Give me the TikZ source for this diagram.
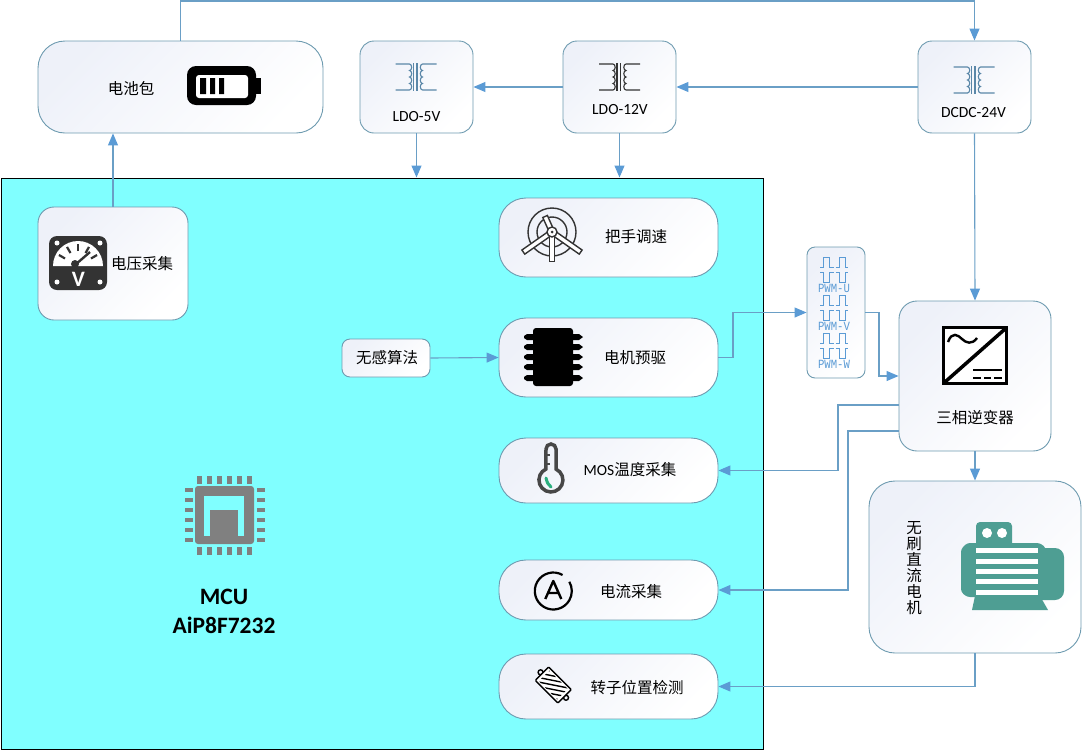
\documentclass[tikz,border=0pt]{standalone}
\usepackage{fontspec}
\setmainfont{Carlito}
\newfontfamily\cjk{Noto Sans CJK SC}
\newfontfamily\pwmfont[FakeStretch=0.85]{Liberation Mono}
\usetikzlibrary{arrows.meta, positioning, calc}
\definecolor{mcucyan}{HTML}{80FFFF}
\definecolor{boxedge}{HTML}{6E9BB0}
\definecolor{boxtint}{HTML}{EEF1F9}
\definecolor{wireblue}{HTML}{6A9FC6}
\definecolor{tipblue}{HTML}{5B9BD5}
\definecolor{icondark}{HTML}{333333}
\definecolor{chipgray}{HTML}{808080}
\definecolor{motorteal}{HTML}{4E9E93}
\definecolor{thermgreen}{HTML}{2BAE7E}
\tikzset{
  panel/.style 2 args={
    rectangle, draw=boxedge, line width=0.9pt,
    left color=boxtint, middle color=white, right color=white, shading angle=45,
    minimum width=#1pt, minimum height=#2pt, inner sep=0pt
  },
  widebox/.style 2 args={panel={#1}{#2}, rounded corners=27pt},
  blockbox/.style 2 args={panel={#1}{#2}, rounded corners=14pt},
  smallbox/.style 2 args={panel={#1}{#2}, rounded corners=8pt},
  cjklabel/.style={inner sep=0pt, font=\fontsize{15.5pt}{16pt}\cjk},
  latinlabel/.style={inner sep=0pt, font=\fontsize{15.5pt}{16pt}\selectfont},
  arr/.style={-{Triangle[length=12pt,width=10pt,color=tipblue]}, draw=wireblue, line width=1.1pt},
  % icons, drawn round their own centre
  xformer/.pic={
    \draw[line width=1.1pt] (-21,-13) -- (-7,-13)
      arc[start angle=90,end angle=-90,x radius=2.2pt,y radius=3.25pt]
      arc[start angle=90,end angle=-90,x radius=2.2pt,y radius=3.25pt]
      arc[start angle=90,end angle=-90,x radius=2.2pt,y radius=3.25pt]
      arc[start angle=90,end angle=-90,x radius=2.2pt,y radius=3.25pt]
      -- (-21,13);
    \draw[line width=1.1pt] (20,-13) -- (6,-13)
      arc[start angle=90,end angle=270,x radius=2.2pt,y radius=3.25pt]
      arc[start angle=90,end angle=270,x radius=2.2pt,y radius=3.25pt]
      arc[start angle=90,end angle=270,x radius=2.2pt,y radius=3.25pt]
      arc[start angle=90,end angle=270,x radius=2.2pt,y radius=3.25pt]
      -- (20,13);
    \draw[line width=1.1pt] (-3,-14) -- (-3,14) (0.5,-14) -- (0.5,14);
  },
  pulses/.pic={
    \draw[tipblue, line width=1pt]
      (-14,5) -- (-10.5,5) -- (-10.5,-5) -- (-4.5,-5) -- (-4.5,5) -- (-0.5,5)
      (1.5,5) -- (5,5) -- (5,-5) -- (11,-5) -- (11,5) -- (14,5);
    \draw[tipblue, line width=1pt]
      (-14,10) -- (-10.5,10) -- (-10.5,20) -- (-4.5,20) -- (-4.5,10) -- (-0.5,10)
      (1.5,10) -- (5,10) -- (5,20) -- (11,20) -- (11,10) -- (14,10);
  }
}

\begin{document}
\begin{tikzpicture}[x=1pt,y=-1pt]
\useasboundingbox (0,0) rectangle (1086,750);

% MCU area
\node[rectangle, draw=black, line width=1pt, fill=mcucyan, minimum width=762pt,
      minimum height=571pt, inner sep=0pt] (mcu) at (382,463.5) {};

% top row
\node[widebox={285}{92}] (batt) at (180.5,87) {};
\node[blockbox={113}{92}] (ldofive) at (416.5,87) {};
\node[blockbox={113}{92}] (ldotwelve) at (619.5,87) {};
\node[blockbox={113}{92}] (dcdc) at (974.5,87) {};

% inside the MCU
\node[blockbox={150}{113}, rounded corners=16pt] (volt) at (113,263.5) {};
\node[widebox={219}{79}] (grip) at (608.5,237.5) {};
\node[widebox={219}{79}] (predrv) at (608.5,357.5) {};
\node[widebox={219}{65}] (mostemp) at (608.5,470.5) {};
\node[widebox={219}{60}] (curr) at (608.5,590) {};
\node[widebox={219}{65}] (rotor) at (608.5,686.5) {};
\node[smallbox={88}{38}] (sensorless) at (386,358) {};

% right side
\node[smallbox={58}{131}] (pwm) at (836,312.5) {};
\node[blockbox={152}{150}, rounded corners=18pt] (inv) at (975,376) {};
\node[blockbox={212}{172}, rounded corners=26pt] (bldc) at (975,567) {};

% connectors
\coordinate (toprail) at (974.5,1);
\coordinate (prebend) at (733,357.5);
\coordinate (pwmbend) at (879,312.5);
\coordinate (tempbend) at (838,405);
\coordinate (currbend) at (848,431);
\draw[arr] (batt.north) |- (toprail) -- (dcdc.north);
\draw[arr] (volt.north) -- (volt.north |- batt.south);
\draw[arr] (ldotwelve.west) -- (ldofive.east);
\draw[arr] (dcdc.west) -- (ldotwelve.east);
\draw[arr] (ldofive.south) -- (ldofive.south |- mcu.north);
\draw[arr] (ldotwelve.south) -- (ldotwelve.south |- mcu.north);
\draw[arr] (dcdc.south) -- (inv.north);
\draw[arr] (inv.south) -- (bldc.north);
\draw[arr] (sensorless.east) -- (predrv.west);
\draw[arr] (predrv.east) -- (prebend) |- (pwm.west);
\draw[arr] (pwm.east) -- (pwmbend) |- (inv.west);
\draw[arr] (inv.west |- tempbend) -- (tempbend) |- (mostemp.east);
\draw[arr] (inv.west |- currbend) -- (currbend) |- (curr.east);
\draw[arr] (bldc.south) |- (rotor.east);

% labels
\node[cjklabel] (battlbl) at (131,88) {电池包};
\node[latinlabel] (ldofivelbl) at (416.5,117) {LDO-5V};
\node[latinlabel] (ldotwelvelbl) at (620,110) {LDO-12V};
\node[latinlabel] (dcdclbl) at (973.5,113) {DCDC-24V};
\node[cjklabel] (voltlbl) at (142,264) {电压采集};
\node[cjklabel] (griplbl) at (636,237) {把手调速};
\node[cjklabel] (sensorlesslbl) at (387,358) {无感算法};
\node[cjklabel] (predrvlbl) at (635,358) {电机预驱};
\node[latinlabel] (mostemplbl) at (630,470) {MOS{\cjk 温度采集}};
\node[cjklabel] (currlbl) at (631,592) {电流采集};
\node[cjklabel] (rotorlbl) at (637,688) {转子位置检测};
\node[cjklabel] (invlbl) at (975,418) {三相逆变器};
\node[cjklabel, align=center, text width=16pt] (bldclbl) at (914,568) {无\\刷\\直\\流\\电\\机};
\node[inner sep=0pt, align=center, font=\fontsize{23.5pt}{29pt}\selectfont\bfseries] (mculbl) at (224,611.5) {MCU\\AiP8F7232};

% transformer icons
\pic[color=wireblue!85!black] at (416.5,77) {xformer};
\pic[color=icondark] at (620,77) {xformer};
\pic[color=wireblue!85!black] at (974.5,80) {xformer};

% battery icon
\fill[black, rounded corners=9pt] (187,66) rectangle (256,105);
\fill[black] (255,78) rectangle (261,94);
\fill[white, rounded corners=3pt] (196,75) rectangle (248,98);
\fill[black] (200,78) rectangle (206,94) (210,78) rectangle (215,94) (219,78) rectangle (224,94);

% voltmeter icon
\fill[icondark, rounded corners=8pt] (49,236) rectangle (107,290);
\fill[white] (53,266) arc[start angle=180,end angle=0,radius=25pt] -- cycle;
\foreach \cx/\cy in {57/243,100/243,57/282,100/282}
  \fill[white] (\cx,\cy) circle[radius=2.5pt];
\foreach \ang in {30,60,90,120,150}
  \draw[icondark, line width=2.2pt] ($(78,266)+({15*cos(\ang)},{-15*sin(\ang)})$) -- ($(78,266)+({22*cos(\ang)},{-22*sin(\ang)})$);
\draw[icondark, line width=2.4pt] (75,265) -- (90,252);
\fill[icondark] (75,264) circle[radius=4pt];
\node[inner sep=0pt, text=white, font=\fontsize{22pt}{22pt}\selectfont\bfseries] (voltv) at (78.5,279) {V};

% grip icon
\begin{scope}[shift={(552,232)}, draw=icondark, line width=1.4pt]
  \draw (0,0) circle[radius=24pt];
  \draw (0,0) circle[radius=15pt];
  \draw[fill=white, rotate=-55] (-2.5,4) rectangle (2.5,35);
  \draw[fill=white, rotate=55] (-2.5,4) rectangle (2.5,35);
  \draw[fill=white] (-2.5,4) rectangle (2.5,29.5);
  \draw[fill=white, rotate=204] (-2.5,4) rectangle (2.5,17);
  \draw[fill=white] (0,0) circle[radius=5pt];
  \fill[icondark] (0,0) circle[radius=1.5pt];
\end{scope}

% chip icon
\fill[black, rounded corners=3pt] (533,328) rectangle (573,386);
\foreach \py in {337,347,357,367,378} {
  \fill[black] (533,\py-3) -- (527,\py-3) -- (524,\py-1) -- (524,\py+1) -- (527,\py+3) -- (533,\py+3) -- cycle;
  \fill[black] (573,\py-3) -- (579,\py-3) -- (583,\py) -- (579,\py+3) -- (573,\py+3) -- cycle;
}

% thermometer icon
\begin{scope}[shift={(551,480)}]
  \draw[icondark!90!white, line width=3.5pt] (5,-10.9)
    arc[start angle=65,end angle=-245,radius=12pt]
    -- (-5,-31) arc[start angle=180,end angle=0,radius=5pt] -- cycle;
  \draw[icondark!90!white, line width=2.5pt] (-6,-25) -- (-1,-25) (-6,-16) -- (-1,-16);
  \draw[thermgreen, line width=3pt, line cap=round] (-5,-2) .. controls (-4,2) and (-3,5) .. (0,7);
\end{scope}

% ammeter icon
\draw[black, line width=2.2pt] (553.3,591) ++(60:18.5pt)
  arc[start angle=60,end angle=390,radius=18.5pt];
\draw[black, line width=2.4pt, line join=round] (545.3,599) -- (553.3,581) -- (561.3,599) (548.3,593) -- (558.3,593);

% rotor icon
\begin{scope}[shift={(553.3,685)}, rotate=-45, draw=black, line width=1.4pt]
  \draw (-18,0) circle[radius=2.5pt] (18,0) circle[radius=2.5pt];
  \draw[fill=white, rounded corners=1pt] (-16,-9.5) rectangle (16,9.5);
  \clip (-13,-7.5) rectangle (13,7.5);
  \foreach \hx in {-36,-28,-20,-12,-4,4,12}
    \draw (\hx,8) -- (\hx+24,-8);
\end{scope}

% mcu chip icon
\fill[chipgray, rounded corners=3pt] (195,486) rectangle (254,544);
\fill[mcucyan] (204,496) rectangle (244,536);
\fill[chipgray] (210,510) rectangle (238,537);
\foreach \pp in {-25,-15,-5,5,15,25} {
  \fill[chipgray] (184.5,515+\pp-2) rectangle (192.5,515+\pp+2);
  \fill[chipgray] (256.5,515+\pp-2) rectangle (264.5,515+\pp+2);
  \fill[chipgray] (224.5+\pp-2.5,476) rectangle (224.5+\pp+2.5,483.5);
  \fill[chipgray] (224.5+\pp-2.5,547) rectangle (224.5+\pp+2.5,555);
}

% pwm icon
\foreach \gy/\lbl in {0/U,38/V,76/W} {
  \pic at (834,262+\gy) {pulses};
  \node[inner sep=0pt, text=tipblue, font=\fontsize{12.5pt}{13pt}\pwmfont] (pwm\lbl) at (834,288.5+\gy) {PWM-\lbl};
}

% inverter icon
\draw[black, fill=white, line width=3.5pt] (943.5,327.5) rectangle (1006.5,383.5);
\draw[black, line width=3.5pt] (945,382) -- (1005,329);
\draw[black, line width=2.4pt] (948,342) .. controls (952,331) and (958,335) .. (962,339)
  .. controls (966,343) and (972,345) .. (977,338);
\draw[black, line width=2.6pt] (973,370) -- (1002,370);
\draw[black, line width=2.6pt] (973,378) -- (981,378) (984,378) -- (991,378) (994,378) -- (1002,378);

% motor icon
\fill[motorteal, rounded corners=4pt] (976,522) rectangle (1012,550);
\fill[white] (987,533) circle[radius=5pt] (1002,533) circle[radius=5pt];
\fill[motorteal, rounded corners=9pt] (1030,548) rectangle (1064,600);
\fill[motorteal, rounded corners=3pt] (961,549) -- (967,543) -- (1040,543) -- (1046,548) -- (1046,597) -- (967,597) -- (961,592) -- cycle;
\fill[motorteal] (975,596) -- (1040,596) -- (1048,610) -- (972,610) -- cycle;
\foreach \sy in {548,558.5,569,579,590}
  \fill[white] (976,\sy) rectangle (1038,\sy+5);

\end{tikzpicture}
\end{document}
